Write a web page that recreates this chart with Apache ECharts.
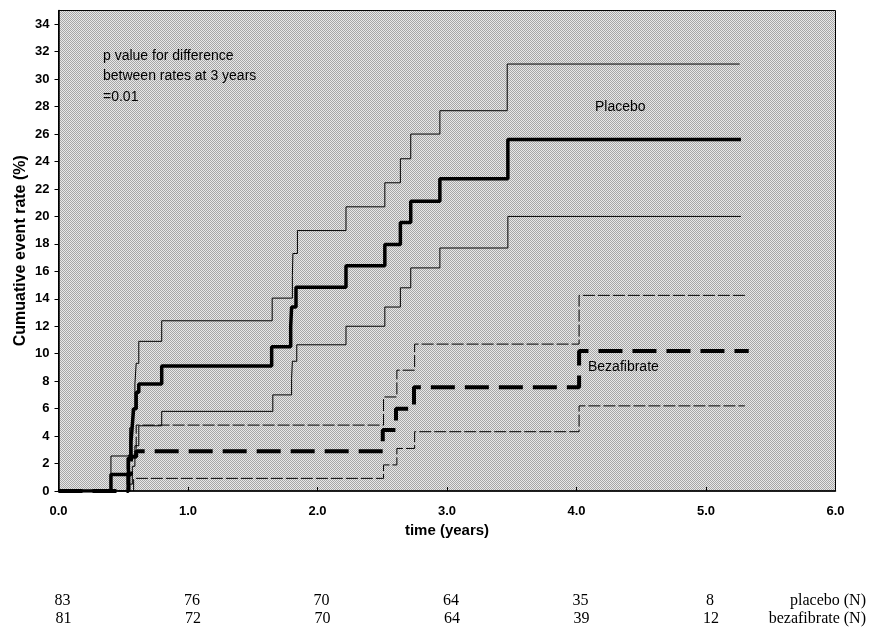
<!DOCTYPE html>
<html>
<head>
<meta charset="utf-8">
<title>Cumulative event rate</title>
<script src="https://cdn.jsdelivr.net/npm/echarts@6/dist/echarts.min.js"></script>
<style>
  html, body { margin: 0; padding: 0; background: #fff; }
  #main { width: 870px; height: 632px; }
</style>
</head>
<body>
<div id="main"></div>
<script>
// step curves, value holds from each time until the next one
var placeboTime  = [0, 0.405, 0.54, 0.56, 0.57, 0.58, 0.60, 0.62, 0.797, 1.646, 1.793, 1.80, 1.834, 2.22, 2.52, 2.64, 2.72, 2.945, 3.47, 5.27];
var placeboRate  = [0, 1.2, 2.4, 3.6, 4.8, 6.0, 7.2, 7.8, 9.1, 10.5, 12.0, 13.4, 14.85, 16.4, 17.95, 19.55, 21.1, 22.75, 25.6, 25.6];

var placeboUpperTime = [0, 0.405, 0.55, 0.57, 0.59, 0.60, 0.62, 0.797, 1.65, 1.806, 1.81, 1.845, 2.22, 2.52, 2.64, 2.72, 2.945, 3.465, 5.26];
var placeboUpper     = [0, 2.55, 4.6, 6.0, 7.8, 9.3, 10.9, 12.4, 14.05, 15.7, 17.3, 18.97, 20.7, 22.45, 24.2, 26.0, 27.7, 31.1, 31.1];

var placeboLowerTime = [0, 0.55, 0.57, 0.59, 0.62, 0.797, 1.655, 1.80, 1.806, 1.84, 2.22, 2.52, 2.64, 2.72, 2.945, 3.47, 5.27];
var placeboLower     = [0, 0.5, 1.8, 3.3, 4.75, 5.8, 7.0, 8.2, 9.45, 10.65, 12.0, 13.4, 14.8, 16.25, 17.7, 20.0, 20.0];

var bezaTime = [0, 0.54, 0.56, 0.60, 2.504, 2.606, 2.745, 4.02, 5.33];
var bezaRate = [0, 1.2, 2.5, 2.9, 4.45, 6.0, 7.55, 10.2, 10.2];

var bezaUpperTime = [0, 0.53, 0.60, 2.51, 2.613, 2.75, 4.02, 5.3];
var bezaUpper     = [0, 2.6, 4.8, 6.85, 8.8, 10.7, 14.25, 14.25];

var bezaLowerTime = [0, 0.58, 2.51, 2.613, 2.75, 4.02, 5.3];
var bezaLower     = [0, 0.92, 1.9, 3.1, 4.32, 6.2, 6.2];

// numbers at risk, one per year 0..5
var riskYears   = [0, 1, 2, 3, 4, 5];
var riskPlacebo = [83, 76, 70, 64, 35, 8];
var riskBeza    = [81, 72, 70, 64, 39, 12];

var noteLines = ['p value for difference', 'between rates at 3 years', '=0.01'];

function pairs(t, v) {
  return t.map(function (x, i) { return [x, v[i]]; });
}

// dithered grey like the scanned plot area
var pat = document.createElement('canvas');
pat.width = 2; pat.height = 2;
var pc = pat.getContext('2d');
pc.fillStyle = '#e8e8e8'; pc.fillRect(0, 0, 2, 2);
pc.fillStyle = '#a6a6a6'; pc.fillRect(0, 0, 1, 1); pc.fillRect(1, 1, 1, 1);

var sans = '"Liberation Sans", Arial, sans-serif';
var serif = '"Liberation Serif", "Times New Roman", serif';

var myChart = echarts.init(document.getElementById('main'));

var option = {
  animation: false,
  backgroundColor: '#fff',
  grid: {
    show: true,
    left: 58.5, right: 34.5, top: 10.5, bottom: 141,
    backgroundColor: { image: pat, repeat: 'repeat' },
    borderColor: '#000',
    borderWidth: 1
  },
  xAxis: {
    type: 'value',
    min: 0, max: 6, interval: 1,
    name: 'time (years)',
    nameLocation: 'middle',
    nameGap: 32,
    nameTextStyle: { fontFamily: sans, fontSize: 15, fontWeight: 'bold', color: '#000' },
    axisLine: { lineStyle: { color: '#000', width: 1.5 } },
    axisTick: { inside: true, length: 4, lineStyle: { color: '#000' } },
    axisLabel: {
      margin: 14, color: '#000', fontFamily: sans, fontSize: 13, fontWeight: 'bold',
      formatter: function (v) { return v.toFixed(1); }
    },
    splitLine: { show: false }
  },
  yAxis: {
    type: 'value',
    min: 0, max: 35, interval: 2,
    name: 'Cumuative event rate (%)',
    nameLocation: 'middle',
    nameGap: 30,
    nameMoveOverlap: false,
    nameTextStyle: { fontFamily: sans, fontSize: 16, fontWeight: 'bold', color: '#000' },
    axisLine: { lineStyle: { color: '#000', width: 1.5 } },
    axisTick: { length: 4, lineStyle: { color: '#000' } },
    axisLabel: { margin: 9, color: '#000', fontFamily: sans, fontSize: 13, fontWeight: 'bold', showMaxLabel: false },
    splitLine: { show: false }
  },
  series: [
    {
      name: 'placebo upper', type: 'line', step: 'end', symbol: 'none',
      data: pairs(placeboUpperTime, placeboUpper),
      lineStyle: { color: '#000', width: 1 }, z: 2
    },
    {
      name: 'placebo lower', type: 'line', step: 'end', symbol: 'none',
      data: pairs(placeboLowerTime, placeboLower),
      lineStyle: { color: '#000', width: 1 }, z: 2
    },
    {
      name: 'bezafibrate upper', type: 'line', step: 'end', symbol: 'none',
      data: pairs(bezaUpperTime, bezaUpper),
      lineStyle: { color: '#000', width: 1, type: [12, 3] }, z: 2
    },
    {
      name: 'bezafibrate lower', type: 'line', step: 'end', symbol: 'none',
      data: pairs(bezaLowerTime, bezaLower),
      lineStyle: { color: '#000', width: 1, type: [12, 3] }, z: 2
    },
    {
      name: 'bezafibrate', type: 'line', step: 'end', symbol: 'none',
      data: pairs(bezaTime, bezaRate),
      lineStyle: { color: '#000', width: 4, type: [24, 10] }, z: 3
    },
    {
      name: 'placebo', type: 'line', step: 'end', symbol: 'none',
      data: pairs(placeboTime, placeboRate),
      lineStyle: { color: '#000', width: 3.5 }, z: 4
    }
  ]
};

myChart.setOption(option);

// text overlays: note, curve labels, numbers at risk
var g = [];
noteLines.forEach(function (s, i) {
  g.push({ type: 'text', x: 103, y: 56 + i * 20.5, z: 10,
    style: { text: s, font: '14px ' + sans, fill: '#000', verticalAlign: 'middle' } });
});
g.push({ type: 'text', x: 595, y: 107, z: 10,
  style: { text: 'Placebo', font: '14px ' + sans, fill: '#000', verticalAlign: 'middle' } });
g.push({ type: 'text', x: 588, y: 367, z: 10,
  style: { text: 'Bezafibrate', font: '14px ' + sans, fill: '#000', verticalAlign: 'middle' } });

riskYears.forEach(function (yr, i) {
  var px = myChart.convertToPixel({ xAxisIndex: 0 }, yr);
  g.push({ type: 'text', x: px + 4, y: 601, z: 10,
    style: { text: String(riskPlacebo[i]), font: '16px ' + serif, fill: '#000', align: 'center', verticalAlign: 'middle' } });
  g.push({ type: 'text', x: px + 5, y: 619, z: 10,
    style: { text: String(riskBeza[i]), font: '16px ' + serif, fill: '#000', align: 'center', verticalAlign: 'middle' } });
});
g.push({ type: 'text', x: 866, y: 601, z: 10,
  style: { text: 'placebo (N)', font: '16px ' + serif, fill: '#000', align: 'right', verticalAlign: 'middle' } });
g.push({ type: 'text', x: 866, y: 619, z: 10,
  style: { text: 'bezafibrate (N)', font: '16px ' + serif, fill: '#000', align: 'right', verticalAlign: 'middle' } });

myChart.setOption({ graphic: g });
</script>
</body>
</html>
